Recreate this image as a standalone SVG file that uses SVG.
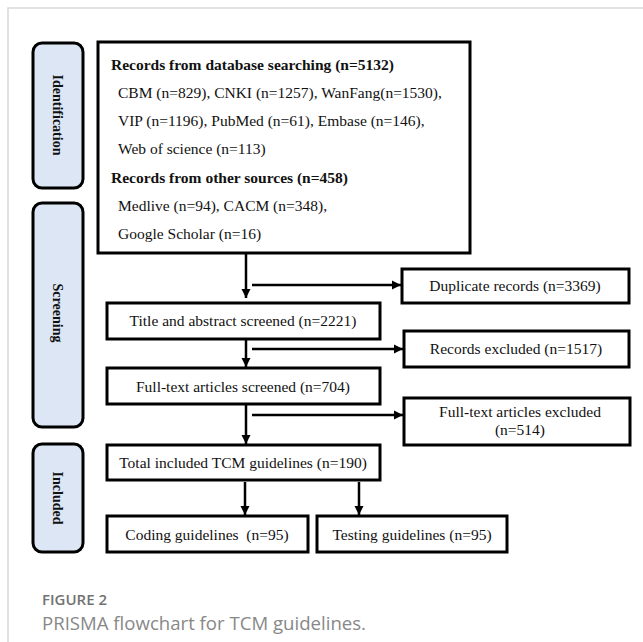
<svg xmlns="http://www.w3.org/2000/svg" width="643" height="642" viewBox="0 0 643 642">
<style>
.frame{stroke:#d9d9d9;stroke-width:1.5;fill:none}
.side{fill:#dce6f4;stroke:#000;stroke-width:3}
.box{fill:#fff;stroke:#000;stroke-width:3}
.t{font-family:"Liberation Serif","Times New Roman",serif;font-size:15.5px;fill:#111}
.b{font-weight:bold}
.c{text-anchor:middle}
.sl{font-family:"Liberation Serif","Times New Roman",serif;font-size:14px;font-weight:bold;fill:#111;text-anchor:middle}
.ln{stroke:#000;stroke-width:2.5;fill:none}
.cap1{font-family:"Open Sans","Noto Sans",sans-serif;font-size:15px;font-weight:600;fill:#727272}
.cap2{font-family:"Open Sans","Noto Sans",sans-serif;font-size:18.6px;fill:#888}
</style>
<defs>
<marker id="ah" viewBox="0 0 10 10" refX="10" refY="5" markerWidth="3.8" markerHeight="3.8" orient="auto" markerUnits="strokeWidth">
<path d="M0,0 L10,5 L0,10 Z" fill="#000"/>
</marker>
</defs>
<rect width="643" height="642" fill="#fff"/>
<path class="frame" d="M8,642 V8 H643"/>

<g id="stage-identification">
<rect class="side" x="33" y="43" width="50" height="145" rx="9"/>
<text class="sl" transform="translate(53,115) rotate(90)">Identification</text>
</g>
<g id="stage-screening">
<rect class="side" x="33" y="203" width="50" height="224" rx="9"/>
<text class="sl" transform="translate(53,313) rotate(90)">Screening</text>
</g>
<g id="stage-included">
<rect class="side" x="33" y="444" width="50" height="108" rx="9"/>
<text class="sl" transform="translate(53,498) rotate(90)">Included</text>
</g>

<g id="records">
<rect class="box" x="98" y="42" width="372" height="211"/>
<text class="t b" x="111" y="70">Records from database searching (n=5132)</text>
<text class="t" x="118" y="98">CBM (n=829), CNKI (n=1257), WanFang(n=1530),</text>
<text class="t" x="118" y="126">VIP (n=1196), PubMed (n=61), Embase (n=146),</text>
<text class="t" x="118" y="154">Web of science (n=113)</text>
<text class="t b" x="111" y="183">Records from other sources (n=458)</text>
<text class="t" x="118" y="211">Medlive (n=94), CACM (n=348),</text>
<text class="t" x="118" y="239">Google Scholar (n=16)</text>
</g>

<g id="duplicates">
<rect class="box" x="402" y="269" width="227" height="34"/>
<text class="t c" x="515" y="291">Duplicate records (n=3369)</text>
</g>
<g id="title-abstract">
<rect class="box" x="107" y="303" width="273" height="36"/>
<text class="t c" x="243" y="326">Title and abstract screened (n=2221)</text>
</g>
<g id="records-excluded">
<rect class="box" x="404" y="331" width="225" height="36"/>
<text class="t c" x="516" y="354">Records excluded (n=1517)</text>
</g>
<g id="fulltext-screened">
<rect class="box" x="107" y="368" width="273" height="36"/>
<text class="t c" x="243" y="392">Full-text articles screened (n=704)</text>
</g>
<g id="fulltext-excluded">
<rect class="box" x="404" y="398" width="226" height="47"/>
<text class="t c" x="520" y="417">Full-text articles excluded</text>
<text class="t c" x="520" y="435">(n=514)</text>
</g>
<g id="total-included">
<rect class="box" x="107" y="445" width="273" height="35"/>
<text class="t c" x="243" y="468">Total included TCM guidelines (n=190)</text>
</g>
<g id="coding">
<rect class="box" x="107" y="516" width="201" height="36"/>
<text class="t c" x="207" y="540" xml:space="preserve">Coding guidelines  (n=95)</text>
</g>
<g id="testing">
<rect class="box" x="317" y="516" width="190" height="36"/>
<text class="t c" x="412" y="540">Testing guidelines (n=95)</text>
</g>

<g id="connectors">
<line class="ln" x1="246" y1="253" x2="246" y2="298" marker-end="url(#ah)"/>
<line class="ln" x1="252" y1="285" x2="401" y2="285" marker-end="url(#ah)"/>
<line class="ln" x1="246" y1="339" x2="246" y2="367" marker-end="url(#ah)"/>
<line class="ln" x1="252" y1="349" x2="403" y2="349" marker-end="url(#ah)"/>
<line class="ln" x1="246" y1="404" x2="246" y2="444" marker-end="url(#ah)"/>
<line class="ln" x1="252" y1="415" x2="403" y2="415" marker-end="url(#ah)"/>
<line class="ln" x1="245" y1="482" x2="245" y2="515" marker-end="url(#ah)"/>
<line class="ln" x1="359" y1="482" x2="359" y2="515" marker-end="url(#ah)"/>
</g>

<text class="cap1" x="42" y="605">FIGURE 2</text>
<text class="cap2" x="42" y="630">PRISMA flowchart for TCM guidelines.</text>
</svg>
